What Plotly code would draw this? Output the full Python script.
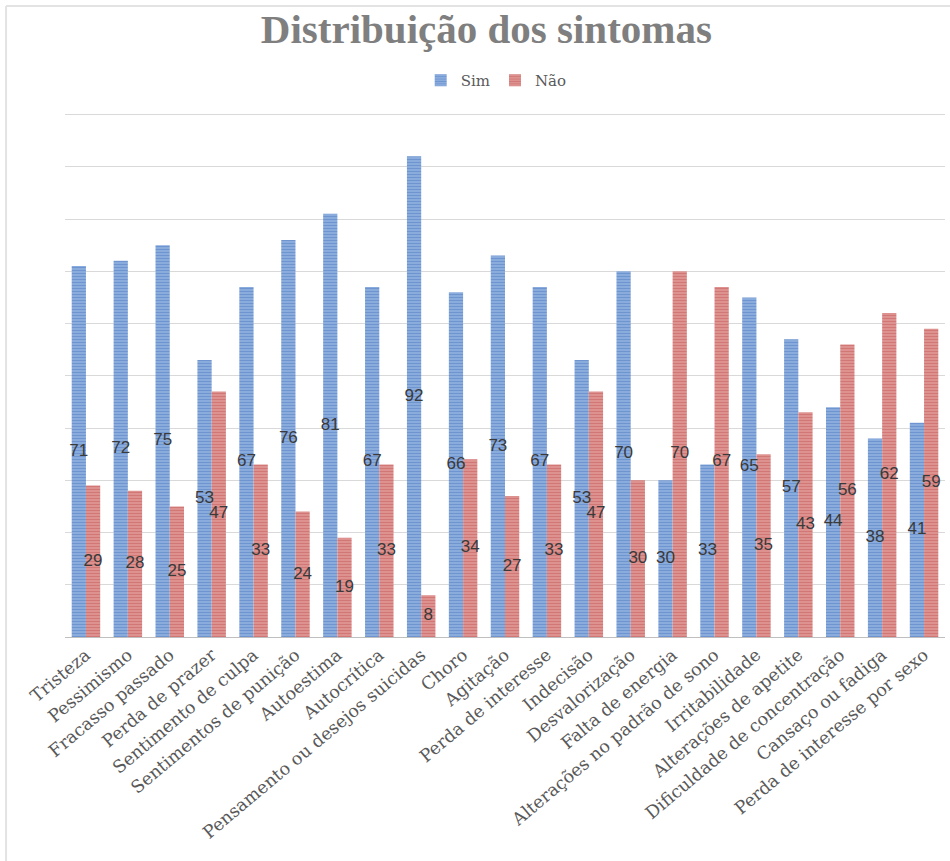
import plotly.graph_objects as go

categories = ["Tristeza", "Pessimismo", "Fracasso passado", "Perda de prazer",
              "Sentimento de culpa", "Sentimentos de punição", "Autoestima",
              "Autocrítica", "Pensamento ou desejos suicidas", "Choro", "Agitação",
              "Perda de interesse", "Indecisão", "Desvalorização", "Falta de energia",
              "Alterações no padrão de sono", "Irritabilidade", "Alterações de apetite",
              "Dificuldade de concentração", "Cansaço ou fadiga", "Perda de interesse por sexo"]
sim = [71, 72, 75, 53, 67, 76, 81, 67, 92, 66, 73, 67, 53, 70, 30, 33, 65, 57, 44, 38, 41]
nao = [29, 28, 25, 47, 33, 24, 19, 33, 8, 34, 27, 33, 47, 30, 70, 67, 35, 43, 56, 62, 59]

idx = list(range(len(categories)))
W = 0.34
SERIF = "DejaVu Serif"
LBL = "Liberation Sans"

fig = go.Figure()
fig.add_trace(go.Bar(
    x=idx, y=sim, name="Sim", width=W, offset=-W,
    marker=dict(color="#4a7cc9", line=dict(width=0),
                pattern=dict(shape="-", fgcolor="#3363b6", bgcolor="#abc7ec",
                             size=3, solidity=0.7)),
))
fig.add_trace(go.Bar(
    x=idx, y=nao, name="Não", width=W, offset=0,
    marker=dict(color="#c55a57", line=dict(width=0),
                pattern=dict(shape="-", fgcolor="#b8403d", bgcolor="#ebb0ae",
                             size=3, solidity=0.7)),
))
fig.add_trace(go.Scatter(
    x=[i - W / 2 for i in idx], y=[v / 2 for v in sim], text=[str(v) for v in sim],
    mode="text", textfont=dict(family=LBL, size=17, color="#3a3a3a"),
    showlegend=False, hoverinfo="skip"))
fig.add_trace(go.Scatter(
    x=[i + W / 2 for i in idx], y=[v / 2 for v in nao], text=[str(v) for v in nao],
    mode="text", textfont=dict(family=LBL, size=17, color="#3a3a3a"),
    showlegend=False, hoverinfo="skip"))

border = dict(color="#e3e3e3", width=2)
fig.update_layout(
    width=950, height=861,
    paper_bgcolor="white", plot_bgcolor="white",
    margin=dict(l=65, r=5, t=113, b=224, autoexpand=False),
    title=dict(text="<b>Distribuição dos sintomas</b>", x=0.512, xanchor="center",
               y=0.967, yanchor="middle",
               font=dict(family="Liberation Serif", size=41, color="#7f7f7f")),
    legend=dict(orientation="h", x=0.49, xanchor="center", y=1.062, yanchor="middle",
                font=dict(family=SERIF, size=15, color="#595959"),
                itemwidth=30, traceorder="normal"),
    barmode="overlay",
    xaxis=dict(range=[-0.5, len(categories) - 0.5], tickmode="array", tickvals=idx,
               ticktext=categories, tickangle=-40, showgrid=False, zeroline=False,
               showline=True, linecolor="#bfbfbf", linewidth=1, ticks="",
               automargin=False,
               tickfont=dict(family=SERIF, size=17.5, color="#595959")),
    yaxis=dict(range=[0, 100.3], dtick=10, showgrid=True, gridcolor="#d9d9d9",
               gridwidth=1, showticklabels=False, zeroline=False, ticks="",
               automargin=False),
    shapes=[
        dict(type="line", xref="paper", yref="paper", x0=-0.067, x1=1.006,
             y0=1.2042, y1=1.2042, line=border, layer="below"),
        dict(type="line", xref="paper", yref="paper", x0=-0.067, x1=-0.067,
             y0=1.2042, y1=-0.43, line=border, layer="below"),
    ],
)

fig.write_html("out.html")
